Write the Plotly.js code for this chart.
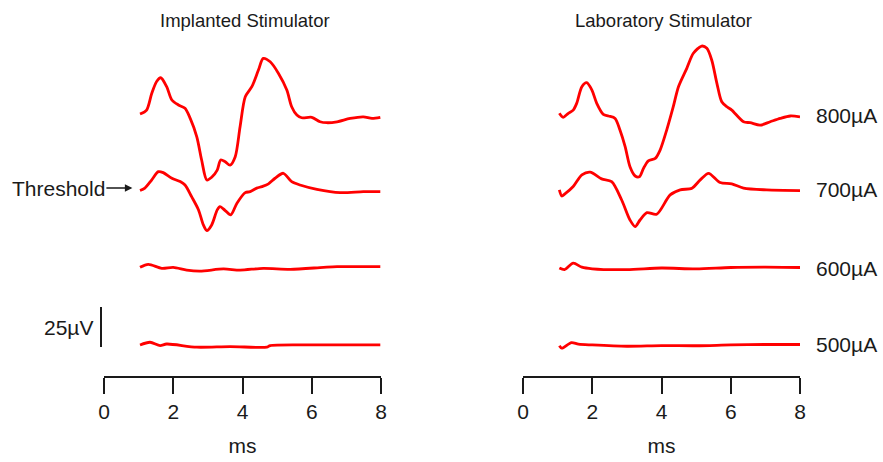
<!DOCTYPE html>
<html>
<head>
<meta charset="utf-8">
<script src="https://cdn.plot.ly/plotly-3.0.1.min.js"></script>
<style>html,body{margin:0;padding:0;background:#fff;}#chart{width:883px;height:462px;}</style>
</head>
<body>
<div id="chart"></div>
<script>
// Stimulation current labels
const currents = ["800µA", "700µA", "600µA", "500µA"];
const panelTitles = ["Implanted Stimulator", "Laboratory Stimulator"];
const xTicks = [0, 2, 4, 6, 8];

// Implanted stimulator responses (time ms, amplitude µV relative to trace baseline)
const imp800_t = [1.04,1.23,1.38,1.52,1.64,1.81,1.96,2.15,2.34,2.49,2.68,2.82,2.97,3.11,3.27,3.37,3.5,3.64,3.79,3.93,4.08,4.27,4.46,4.6,4.8,5.04,5.28,5.42,5.57,5.71,6.0,6.24,6.44,6.73,7.11,7.49,7.74,7.98];
const imp800_v = [0.6,3.1,13.6,21,23.3,17.7,9.4,6.3,4.2,-2.1,-13.6,-28.1,-40.6,-38.9,-34.4,-28.1,-29.2,-31.3,-26,-7.3,11.4,17.7,28.1,35.4,33.3,26,15.6,5.2,0,-1.7,-1.4,-4.2,-4.8,-4.2,-2.1,-1.1,-2.1,-1.4];
const imp700_t = [1.04,1.18,1.38,1.57,1.71,1.96,2.2,2.34,2.53,2.73,2.87,2.97,3.11,3.27,3.35,3.5,3.66,3.84,4.08,4.22,4.41,4.56,4.75,4.94,5.18,5.42,5.66,6.15,6.82,7.49,7.98];
const imp700_v = [-0.4,1.1,6.3,11.4,10.8,7.3,5.2,3.1,-4.2,-12.5,-21.9,-25.4,-21.9,-12.5,-10.4,-12.9,-15.6,-8.3,-1.7,-1.1,1.1,2.1,3.8,7.3,10.4,5.2,3.1,0.4,-1.7,-1.1,-1.1];
const imp600_t = [1.04,1.28,1.67,2.0,2.39,2.77,3.45,3.93,4.6,5.38,6.34,6.73,7.98];
const imp600_v = [0.4,2.3,-0.2,0.4,-1.3,-1.9,-0.6,-1.3,-0.2,-0.8,0.4,0.8,0.8];
const imp500_t = [1.04,1.33,1.62,1.81,2.68,3.64,4.70,4.80,6.05,7.98];
const imp500_v = [0,1.7,-0.4,0.6,-1.4,-1.0,-1.4,-0.4,0,0];

// Laboratory stimulator responses
const lab800_t = [1.05,1.16,1.31,1.45,1.55,1.7,1.84,1.99,2.13,2.32,2.47,2.66,2.8,2.95,3.09,3.24,3.36,3.48,3.62,3.82,3.96,4.15,4.34,4.49,4.73,4.92,5.16,5.31,5.45,5.6,5.74,5.89,6.03,6.37,6.56,6.85,7.14,7.43,7.72,8.0];
const lab800_v = [1.1,-1.4,1.1,3.1,7.3,17.7,20.2,15.6,7.3,0.4,-0.6,-2.1,-9.4,-19.8,-32.3,-38.1,-38.6,-33.3,-28.6,-27.1,-21.9,-9.4,5.2,17.7,29.2,38.6,43.1,41.7,34.4,19.8,8.3,5.2,3.1,-4.2,-4.8,-6.3,-4.2,-2.1,-0.6,-1.1];
const lab700_t = [1.05,1.12,1.21,1.45,1.70,1.94,2.27,2.56,2.85,3.09,3.24,3.38,3.58,3.86,4.25,4.54,4.88,5.12,5.36,5.69,6.03,6.37,7.04,8.00];
const lab700_v = [0,-3.8,-2.5,2.1,9.4,11.1,6.9,5.2,-6.3,-18.8,-22.9,-18.8,-14.2,-15.2,-3.1,0,1.1,6.3,10.4,4.6,3.8,1.1,0,-0.4];
const lab600_t = [1.05,1.2,1.45,1.7,2.0,3.0,4.0,5.0,6.0,7.0,8.0];
const lab600_v = [0,-1,3,0.5,-0.5,-1,0,-0.6,0.3,0.5,0.3];
const lab500_t = [1.05,1.12,1.4,1.6,2.0,3.0,4.0,5.0,6.0,7.0,8.0];
const lab500_v = [-0.5,-2,1.5,0.5,0,-0.8,-0.4,-0.5,0,0.3,0.3];

// Scale bar value (µV)
const scaleBar = 25;

// Vertical stacking of traces (µV) – layout only
const stackOffset = [163.1, 116.3, 67.5, 19.4];

const impT = [imp800_t, imp700_t, imp600_t, imp500_t];
const impV = [imp800_v, imp700_v, imp600_v, imp500_v];
const labT = [lab800_t, lab700_t, lab600_t, lab500_t];
const labV = [lab800_v, lab700_v, lab600_v, lab500_v];

const lineStyle = {color: "#ff0000", width: 2.8, shape: "spline", smoothing: 0.8};
const traces = [];
for (let i = 0; i < 4; i++) {
  traces.push({x: impT[i], y: impV[i].map(v => v + stackOffset[i]), xaxis: "x", yaxis: "y",
    mode: "lines", line: lineStyle, hoverinfo: "skip", showlegend: false});
  traces.push({x: labT[i], y: labV[i].map(v => v + stackOffset[i]), xaxis: "x2", yaxis: "y2",
    mode: "lines", line: lineStyle, hoverinfo: "skip", showlegend: false});
}

const font = {family: "Liberation Sans, Arial, sans-serif", size: 21, color: "#1a1a1a"};
const titleFont = {family: "Liberation Sans, Arial, sans-serif", size: 18.5, color: "#1a1a1a"};
const xa = {
  range: [0, 8], tickvals: xTicks, ticktext: xTicks.map(String),
  showline: true, linecolor: "#1a1a1a", linewidth: 2,
  ticks: "outside", ticklen: 16, tickwidth: 2, tickcolor: "#1a1a1a",
  showgrid: false, zeroline: false, tickfont: font,
  title: {text: "ms", font: font, standoff: 16}, fixedrange: true
};
const ya = {range: [0, 222.5], visible: false, showgrid: false, zeroline: false, fixedrange: true};

const annotations = [
  {text: panelTitles[0], xref: "paper", yref: "paper", x: 245/883, y: 1, xanchor: "center", yanchor: "middle", showarrow: false, font: titleFont},
  {text: panelTitles[1], xref: "paper", yref: "paper", x: 663/883, y: 1, xanchor: "center", yanchor: "middle", showarrow: false, font: titleFont},
  {text: scaleBar + "µV", xref: "paper", yref: "y", x: 95/883, y: 18.1 + scaleBar/2, xanchor: "right", yanchor: "middle", showarrow: false, font: font},
  {text: "Threshold", xref: "x", yref: "y", x: 0.82, y: 117.5, ax: -74, ay: 0, showarrow: true,
    arrowhead: 2, arrowsize: 1, arrowwidth: 1.5, arrowcolor: "#1a1a1a", font: font}
];
for (let i = 0; i < 4; i++) {
  annotations.push({text: currents[i], xref: "paper", yref: "y2", x: 814/883, y: stackOffset[i],
    xanchor: "left", yanchor: "middle", showarrow: false, font: font});
}

const layout = {
  width: 883, height: 462,
  margin: {l: 0, r: 0, t: 20, b: 86},
  paper_bgcolor: "#ffffff", plot_bgcolor: "#ffffff",
  xaxis: Object.assign({}, xa, {domain: [104/883, 381/883], anchor: "y"}),
  xaxis2: Object.assign({}, xa, {domain: [523/883, 800/883], anchor: "y2"}),
  yaxis: Object.assign({}, ya, {anchor: "x"}),
  yaxis2: Object.assign({}, ya, {anchor: "x2"}),
  annotations: annotations,
  shapes: [
    {type: "line", xref: "paper", yref: "y", x0: 101/883, x1: 101/883, y0: 18.1, y1: 18.1 + scaleBar,
      line: {color: "#1a1a1a", width: 2}}
  ],
  font: font
};

Plotly.newPlot("chart", traces, layout, {displayModeBar: false, staticPlot: true});
</script>
</body>
</html>
